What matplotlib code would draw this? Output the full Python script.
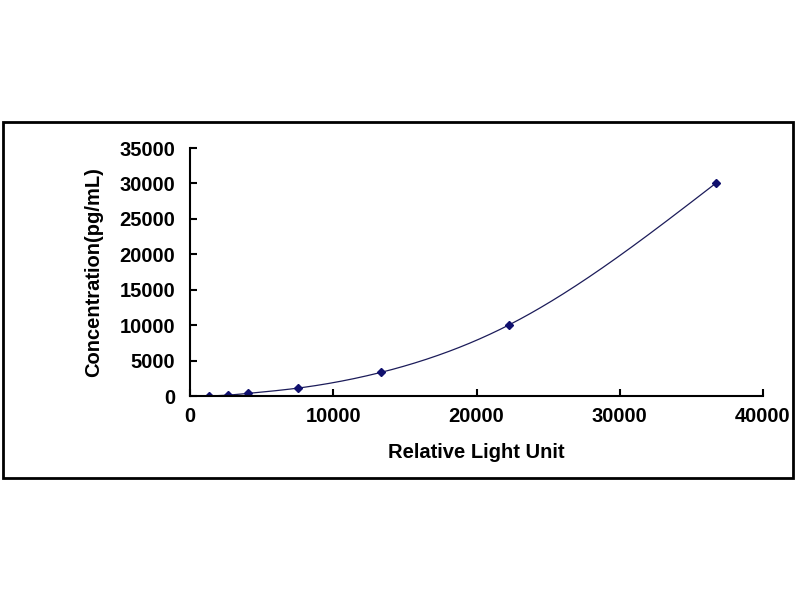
import numpy as np
import matplotlib
matplotlib.use("Agg")
import matplotlib.pyplot as plt
from matplotlib.patches import Rectangle

rlu = [1350, 2630, 4070, 7520, 13330, 22240, 36690]
conc = [0, 123, 370, 1111, 3333, 10000, 30000]
xticks = [0, 10000, 20000, 30000, 40000]
yticks = [0, 5000, 10000, 15000, 20000, 25000, 30000, 35000]


def natural_spline(x, y, xs):
    x = np.asarray(x, float); y = np.asarray(y, float)
    n = len(x)
    h = np.diff(x)
    A = np.zeros((n, n)); b = np.zeros(n)
    A[0, 0] = 1; A[-1, -1] = 1
    for i in range(1, n - 1):
        A[i, i - 1] = h[i - 1]
        A[i, i] = 2 * (h[i - 1] + h[i])
        A[i, i + 1] = h[i]
        b[i] = 3 * ((y[i + 1] - y[i]) / h[i] - (y[i] - y[i - 1]) / h[i - 1])
    c = np.linalg.solve(A, b)
    out = np.empty_like(xs)
    for k, xv in enumerate(xs):
        i = min(max(np.searchsorted(x, xv) - 1, 0), n - 2)
        bi = (y[i + 1] - y[i]) / h[i] - h[i] * (2 * c[i] + c[i + 1]) / 3
        di = (c[i + 1] - c[i]) / (3 * h[i])
        t = xv - x[i]
        out[k] = y[i] + bi * t + c[i] * t ** 2 + di * t ** 3
    return out


plt.rcParams['font.family'] = ['Liberation Sans', 'DejaVu Sans']
fig = plt.figure(figsize=(8, 6), dpi=100)
fig.patch.set_facecolor('white')
fig.patches.append(Rectangle((3 / 800, 1 - 478 / 600), 790 / 800, 356 / 600,
                             transform=fig.transFigure, fill=False,
                             edgecolor='black', linewidth=2))

ax = fig.add_axes([190 / 800, 1 - 396 / 600, 573 / 800, 248 / 600])
xs = np.linspace(rlu[0], rlu[-1], 400)
ys = natural_spline(rlu, conc, xs)
ax.plot(xs, ys, color='#1c1c5a', linewidth=0.9)
ax.plot(rlu, conc, linestyle='none', marker='D', markersize=4.5,
        color='#10106e')

fs = 14.5
ax.set_xlim(0, 40000)
ax.set_ylim(0, 35000)
ax.set_xticks(xticks)
ax.set_yticks(yticks)
ax.set_xticklabels([str(v) for v in xticks], fontsize=fs, fontweight='bold')
ax.set_yticklabels([str(v) for v in yticks], fontsize=fs, fontweight='bold')
ax.tick_params(direction='in', length=5, width=1.5)
ax.tick_params(axis='x', pad=8)
ax.tick_params(axis='y', pad=10.5)
for s in ['top', 'right']:
    ax.spines[s].set_visible(False)
for s in ['left', 'bottom']:
    ax.spines[s].set_linewidth(1.5)
ax.set_xlabel('Relative Light Unit', fontsize=fs, fontweight='bold', labelpad=12)
ax.set_ylabel('Concentration(pg/mL)', fontsize=fs, fontweight='bold', labelpad=12)

fig.savefig('out.png', dpi=100, facecolor='white')
